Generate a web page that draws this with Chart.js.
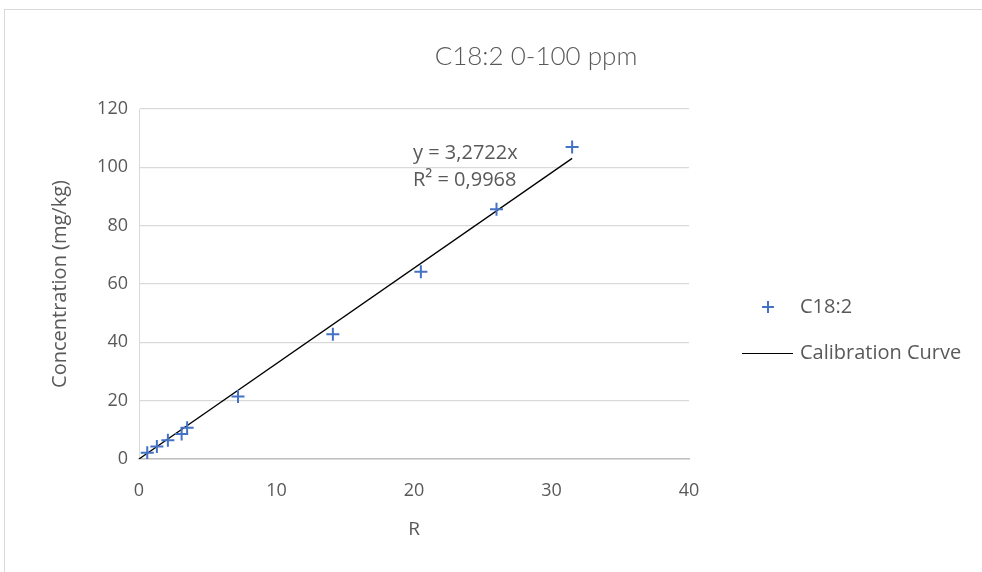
<!DOCTYPE html>
<html>
<head>
<meta charset="utf-8">
<script src="https://cdn.jsdelivr.net/npm/chart.js@4.4.1/dist/chart.umd.min.js"></script>
<style>
html,body{margin:0;padding:0;background:#fff;}
#wrap{width:982px;height:572px;position:relative;}
</style>
</head>
<body>
<div id="wrap"><canvas id="c" width="982" height="572"></canvas></div>
<script>
// ---- data ----
const chartTitle = "C18:2 0-100 ppm";
const seriesName = "C18:2";
const trendName = "Calibration Curve";
const rValues = [0.6, 1.3, 2.1, 3.1, 3.5, 7.2, 14.1, 20.5, 26.0, 31.5];
const concValues = [2.14, 4.28, 6.42, 8.56, 10.7, 21.4, 42.8, 64.2, 85.6, 107];
const trendX = [0, 31.5];
const trendY = [0, 103.07];
const xTicks = [0, 10, 20, 30, 40];
const yTicks = [0, 20, 40, 60, 80, 100, 120];
const eqLines = ["y = 3,2722x", "R\u00B2 = 0,9968"];
const xTitle = "R";
const yTitle = "Concentration (mg/kg)";

const FONT = "'Open Sans', sans-serif";
const TFONT = "Lato, sans-serif";
const TXT = "#595959";
const BLUE = "#4472c4";

const decor = {
  id: 'decor',
  beforeDraw(chart) {
    const ctx = chart.ctx;
    ctx.save();
    ctx.fillStyle = '#fff';
    ctx.fillRect(0, 0, chart.width, chart.height);
    ctx.strokeStyle = '#d9d9d9';
    ctx.lineWidth = 1;
    ctx.strokeRect(4.5, 9.5, 990, 600);
    ctx.restore();
  },
  afterDraw(chart) {
    const ctx = chart.ctx;
    const ca = chart.chartArea;
    ctx.save();
    // title
    ctx.fillStyle = TXT;
    ctx.font = "300 26px " + TFONT;
    ctx.textAlign = 'center';
    ctx.textBaseline = 'middle';
    ctx.fillText(chartTitle, 536, 57);
    // axis titles
    ctx.font = "20px " + FONT;
    ctx.save();
    ctx.translate(60, (ca.top + ca.bottom) / 2);
    ctx.rotate(-Math.PI / 2);
    ctx.fillText(yTitle, 0, 0);
    ctx.restore();
    ctx.font = "19px " + FONT;
    ctx.fillText(xTitle, (ca.left + ca.right) / 2, 530);
    // equation
    ctx.textAlign = 'left';
    ctx.font = "20px " + FONT;
    ctx.fillText(eqLines[0], 413, 153);
    ctx.fillText(eqLines[1], 413, 180);
    // legend
    ctx.strokeStyle = BLUE;
    ctx.lineWidth = 2;
    ctx.beginPath();
    ctx.moveTo(762, 307); ctx.lineTo(774, 307);
    ctx.moveTo(768, 301); ctx.lineTo(768, 313);
    ctx.stroke();
    ctx.strokeStyle = '#000';
    ctx.lineWidth = 1.2;
    ctx.beginPath();
    ctx.moveTo(742, 353.5); ctx.lineTo(793, 353.5);
    ctx.stroke();
    ctx.fillStyle = TXT;
    ctx.font = "20px " + FONT;
    ctx.fillText(seriesName, 800, 307);
    ctx.fillText(trendName, 800, 353);
    ctx.restore();
  }
};

new Chart(document.getElementById('c'), {
  type: 'scatter',
  data: {
    datasets: [
      {
        label: trendName,
        type: 'line',
        data: trendX.map((x, i) => ({x: x, y: trendY[i]})),
        borderColor: '#000',
        borderWidth: 1.3,
        pointRadius: 0,
        fill: false,
        order: 2
      },
      {
        label: seriesName,
        data: rValues.map((x, i) => ({x: x, y: concValues[i]})),
        pointStyle: 'cross',
        pointRadius: 6.5,
        pointBorderColor: BLUE,
        pointBackgroundColor: BLUE,
        pointBorderWidth: 2,
        borderColor: BLUE,
        showLine: false,
        order: 1
      }
    ]
  },
  options: {
    responsive: false,
    animation: false,
    devicePixelRatio: 1,
    layout: { padding: { left: 0, top: 109, right: 293, bottom: 0 } },
    plugins: { legend: { display: false }, tooltip: { enabled: false }, title: { display: false } },
    scales: {
      x: {
        type: 'linear', min: 0, max: 40,
        afterFit(s) { s.height = 113; },
        afterBuildTicks(s) { s.ticks = xTicks.map(v => ({value: v})); },
        grid: { display: false, drawTicks: false },
        border: { display: true, color: '#bfbfbf', width: 1.5 },
        ticks: { color: TXT, font: { family: FONT, size: 18 }, padding: 21, maxRotation: 0 }
      },
      y: {
        type: 'linear', min: 0, max: 120,
        afterFit(s) { s.width = 139; },
        afterBuildTicks(s) { s.ticks = yTicks.map(v => ({value: v})); },
        grid: { display: true, color: '#d9d9d9', lineWidth: 1.3, drawTicks: false },
        border: { display: true, color: '#d9d9d9', width: 1 },
        ticks: { color: TXT, font: { family: FONT, size: 18 }, padding: 11 }
      }
    }
  },
  plugins: [decor]
});
</script>
</body>
</html>
